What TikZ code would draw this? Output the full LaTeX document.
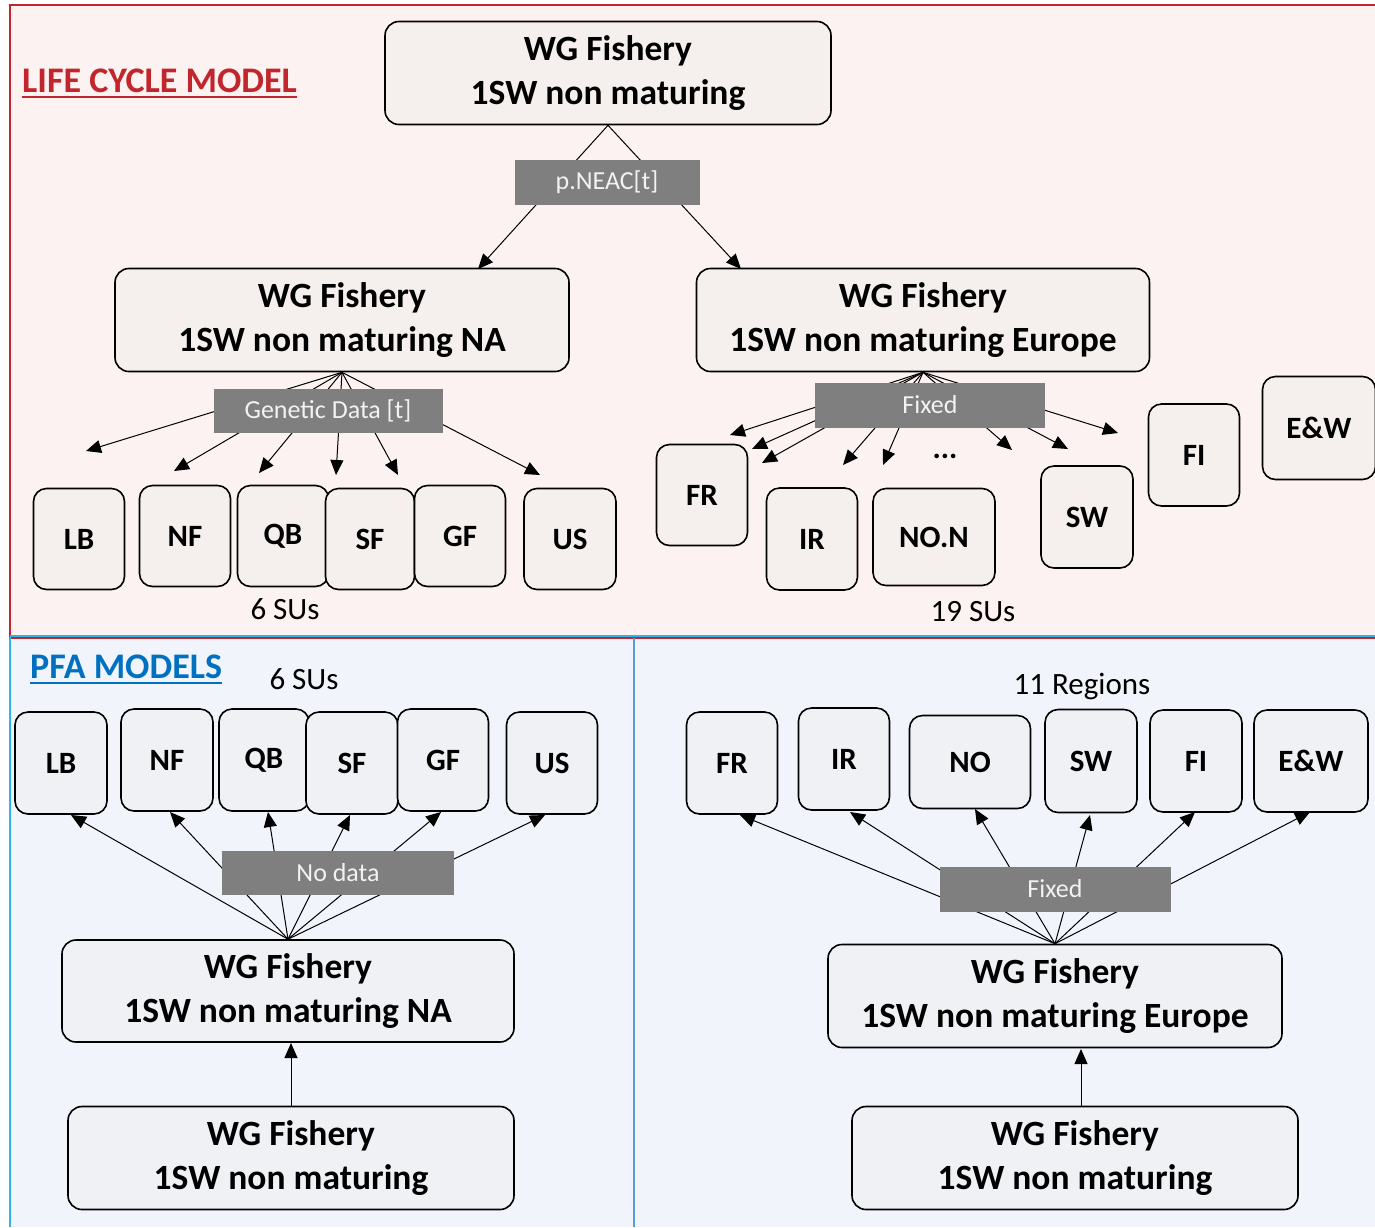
\documentclass[tikz,border=0pt]{standalone}
\usepackage{fontspec}
\setmainfont{Carlito}
\usetikzlibrary{arrows.meta}
\definecolor{toppink}{HTML}{FCF2F1}
\definecolor{topbox}{HTML}{F5EFEE}
\definecolor{botblue}{HTML}{F1F5FB}
\definecolor{botbox}{HTML}{EFF1F5}
\definecolor{lblgray}{HTML}{7F7F7F}
\definecolor{lbltext}{HTML}{F2F2F2}
\definecolor{redline}{HTML}{C0262C}
\definecolor{lightblueline}{HTML}{2CB4E6}
\definecolor{midblueline}{HTML}{5B9BD5}
\definecolor{pfablue}{HTML}{0070C0}
\newcommand\wgfont{\bfseries\fontsize{35.5}{44}\selectfont}
\newcommand\sufont{\bfseries\fontsize{31}{36}\selectfont}
\newcommand\lblfont{\fontsize{26}{30}\selectfont}
\newcommand\cntfont{\fontsize{31}{34}\selectfont}
\newcommand\ttlfont{\bfseries\fontsize{36}{40}\selectfont}
\tikzset{
  wgbox/.style={draw, line width=1.6pt, rounded corners=14pt, align=center, font=\wgfont, inner sep=0pt},
  subox/.style={draw, line width=1.6pt, rounded corners=13pt, font=\sufont, inner sep=0pt},
  lblbox/.style={fill=lblgray, text=lbltext, font=\lblfont, inner sep=0pt},
  fan/.style={line width=1pt, -{Triangle[length=15pt,width=13pt]}},
  cnt/.style={font=\cntfont, inner sep=0pt},
}
\begin{document}
\begin{tikzpicture}[x=1pt,y=-1pt]
\useasboundingbox (0,0) rectangle (1375,1227);
% panels
\fill[white] (0,0) rectangle (1375,1227);
\fill[toppink] (10,5) rectangle (1375,638);
\fill[botblue] (10,637) rectangle (1375,1227);
\draw[redline, line width=2pt] (1375,5) -- (10,5) -- (10,638) -- (1375,638);
\draw[lightblueline, line width=2pt] (10,636) -- (1375,636);
\draw[lightblueline, line width=2pt] (10,637) -- (10,1227);
\draw[midblueline, line width=1.5pt] (634,638) -- (634,1227);

% titles
\node[anchor=base west, text=redline, font=\ttlfont, inner sep=0pt] (lct) at (22,92) {LIFE CYCLE MODEL};
\draw[redline, line width=2.5pt] ([yshift=-5pt]lct.base west) -- ([yshift=-5pt]lct.base east);
\node[anchor=base west, text=pfablue, font=\ttlfont, inner sep=0pt] (pfat) at (30,678) {PFA MODELS};
\draw[pfablue, line width=2.5pt] ([yshift=-5pt]pfat.base west) -- ([yshift=-5pt]pfat.base east);

% ===== top panel =====
\node[wgbox, fill=topbox, minimum width=446pt, minimum height=103pt] (top) at (608,73) {WG Fishery\\1SW non maturing};
\node[wgbox, fill=topbox, minimum width=454pt, minimum height=103pt] (na) at (342,320) {WG Fishery\\1SW non maturing NA};
\node[wgbox, fill=topbox, minimum width=453pt, minimum height=103pt] (eu) at (923,320) {WG Fishery\\1SW non maturing Europe};

\node[subox, fill=topbox, minimum width=91pt, minimum height=101pt] (tLB) at (79,539) {LB};
\node[subox, fill=topbox, minimum width=91pt, minimum height=101pt] (tNF) at (185,536) {NF};
\node[subox, fill=topbox, minimum width=91pt, minimum height=101pt] (tQB) at (283,536) {QB};
\node[subox, fill=topbox, minimum width=89pt, minimum height=101pt] (tSF) at (370,539) {SF};
\node[subox, fill=topbox, minimum width=91pt, minimum height=101pt] (tGF) at (460,536) {GF};
\node[subox, fill=topbox, minimum width=92pt, minimum height=101pt] (tUS) at (570,539) {US};
\node[cnt] (t6) at (285,609) {6 SUs};

\node[subox, fill=topbox, minimum width=91pt, minimum height=101pt] (tFR) at (702,495) {FR};
\node[subox, fill=topbox, minimum width=91pt, minimum height=102pt] (tIR) at (812,539) {IR};
\node[subox, fill=topbox, minimum width=122pt, minimum height=97pt] (tNO) at (934,537) {NO.N};
\node[subox, fill=topbox, minimum width=92pt, minimum height=102pt] (tSW) at (1087,517) {SW};
\node[subox, fill=topbox, minimum width=91pt, minimum height=102pt] (tFI) at (1194,455) {FI};
\node[subox, fill=topbox, minimum width=113pt, minimum height=103pt] (tEW) at (1319,428) {E\&W};
\node[font=\sufont, inner sep=0pt] (dots) at (945,456) {...};
\node[cnt] (t19) at (973,612) {19 SUs};

% arrows top
\coordinate (pa1) at (478,269);
\coordinate (pa2) at (741,269);
\draw[fan] (top.south) -- (pa1);
\draw[fan] (top.south) -- (pa2);

\coordinate (g1) at (86,451);
\coordinate (g2) at (174,471);
\coordinate (g3) at (259,473);
\coordinate (g4) at (336,475);
\coordinate (g5) at (398,475);
\coordinate (g6) at (540,475);
\foreach \c in {g1,g2,g3,g4,g5,g6} \draw[fan] (na.south) -- (\c);

\coordinate (f1) at (730,435);
\coordinate (f2) at (752,449);
\coordinate (f3) at (762,463);
\coordinate (f4) at (843,465);
\coordinate (f5) at (883,465);
\coordinate (f6) at (1012,450);
\coordinate (f7) at (1068,449);
\coordinate (f8) at (1118,433);
\foreach \c in {f1,f2,f3,f4,f5,f6,f7,f8} \draw[fan] (eu.south) -- (\c);

\node[lblbox, minimum width=185pt, minimum height=45pt] (pneac) at (607,182) {p.NEAC[t]};
\node[lblbox, minimum width=229pt, minimum height=44pt] (gen) at (328,411) {Genetic Data [t]};
\node[lblbox, minimum width=230pt, minimum height=45pt] (fix1) at (930,405) {Fixed};

% ===== bottom left =====
\node[cnt] (b6) at (304,679) {6 SUs};
\node[subox, fill=botbox, minimum width=92pt, minimum height=102pt] (bLB) at (61,763) {LB};
\node[subox, fill=botbox, minimum width=92pt, minimum height=102pt] (bNF) at (167,760) {NF};
\node[subox, fill=botbox, minimum width=90pt, minimum height=102pt] (bQB) at (264,760) {QB};
\node[subox, fill=botbox, minimum width=92pt, minimum height=102pt] (bSF) at (352,763) {SF};
\node[subox, fill=botbox, minimum width=91pt, minimum height=102pt] (bGF) at (443,760) {GF};
\node[subox, fill=botbox, minimum width=91pt, minimum height=102pt] (bUS) at (552,763) {US};

\node[wgbox, fill=botbox, minimum width=452pt, minimum height=102pt] (bna) at (288,991) {WG Fishery\\1SW non maturing NA};
\node[wgbox, fill=botbox, minimum width=446pt, minimum height=103pt] (bsrcl) at (291,1158) {WG Fishery\\1SW non maturing};
\coordinate (bsrcltop) at (291,1107);
\coordinate (bnabot) at (291,1043);
\draw[fan] (bsrcltop) -- (bnabot);

\coordinate (n1) at (71,815);
\coordinate (n2) at (170,812);
\coordinate (n3) at (268,812);
\coordinate (n4) at (350,815);
\coordinate (n5) at (441,812);
\coordinate (n6) at (545,815);
\foreach \c in {n1,n2,n3,n4,n5,n6} \draw[fan] (bna.north) -- (\c);
\node[lblbox, minimum width=232pt, minimum height=44pt] (nodata) at (338,873) {No data};

% ===== bottom right =====
\node[cnt] (b11) at (1082,686) {11 Regions};
\node[subox, fill=botbox, minimum width=91pt, minimum height=102pt] (rFR) at (732,763) {FR};
\node[subox, fill=botbox, minimum width=91pt, minimum height=102pt] (rIR) at (844,759) {IR};
\node[subox, fill=botbox, minimum width=121pt, minimum height=93pt] (rNO) at (970,762) {NO};
\node[subox, fill=botbox, minimum width=92pt, minimum height=103pt] (rSW) at (1091,761) {SW};
\node[subox, fill=botbox, minimum width=92pt, minimum height=102pt] (rFI) at (1196,761) {FI};
\node[subox, fill=botbox, minimum width=114pt, minimum height=102pt] (rEW) at (1311,761) {E\&W};

\node[wgbox, fill=botbox, minimum width=454pt, minimum height=103pt] (beu) at (1055,996) {WG Fishery\\1SW non maturing Europe};
\node[wgbox, fill=botbox, minimum width=446pt, minimum height=103pt] (bsrcr) at (1075,1158) {WG Fishery\\1SW non maturing};
\coordinate (bsrcrtop) at (1081,1107);
\coordinate (beubot) at (1081,1049);
\draw[fan] (bsrcrtop) -- (beubot);

\coordinate (r1) at (740,815);
\coordinate (r2) at (850,812);
\coordinate (r3) at (975,809);
\coordinate (r4) at (1090,815);
\coordinate (r5) at (1195,812);
\coordinate (r6) at (1310,812);
\foreach \c in {r1,r2,r3,r4,r5,r6} \draw[fan] (beu.north) -- (\c);
\node[lblbox, minimum width=231pt, minimum height=45pt] (fix2) at (1055,889) {Fixed};
\end{tikzpicture}
\end{document}
